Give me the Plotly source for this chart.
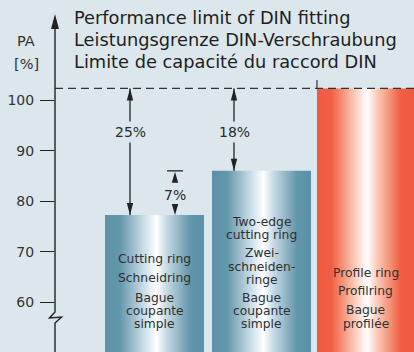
import plotly.graph_objects as go

# ---- data -------------------------------------------------------------
categories = ["Cutting ring", "Two-edge cutting ring", "Profile ring"]
pa_values = [77.3, 86.0, 102.3]          # PA [%] reached by each fitting type
din_limit = 102.3                          # performance limit of DIN fitting
gap_labels = ["25%", "18%", "7%"]
y_ticks = [60, 70, 80, 90, 100]
title_lines = [
    "Performance limit of DIN fitting",
    "Leistungsgrenze DIN-Verschraubung",
    "Limite de capacité du raccord DIN",
]
bar_text = [
    ["Cutting ring", "Schneidring", "Bague", "coupante", "simple"],
    ["Two-edge", "cutting ring", "Zwei-", "schneiden-", "ringe", "Bague", "coupante", "simple"],
    ["Profile ring", "Profilring", "Bague", "profilée"],
]

# ---- layout geometry (pixels) -------------------------------------------
W, H = 414, 352
ML, MT = 55, 14
Y_RANGE = [50.2, 117.0]
PPU = (H - MT) / (Y_RANGE[1] - Y_RANGE[0])   # pixels per PA unit

bar_edges = [(105, 204), (212, 311), (317, 414)]
bar_text_y = [
    [259, 278, 297.5, 310.7, 324],
    [221.7, 235, 253.3, 266.7, 280, 297.5, 311, 324.3],
    [272.7, 290.7, 310, 324],
]

BG = "#dbe7ed"
INK = "#2a2a2a"
FONT = "DejaVu Sans"

blue_scale = [
    [0.0, "#5c90a6"], [0.15, "#6397ac"], [0.28, "#9bbccb"], [0.42, "#d4e5ed"],
    [0.52, "#ffffff"], [0.62, "#c6dbe5"], [0.76, "#8db1c2"], [0.86, "#6196ab"],
    [1.0, "#5c90a6"],
]
red_scale = [
    [0.0, "#ef5a3f"], [0.15, "#f06045"], [0.28, "#f59a80"], [0.42, "#fcd8cb"],
    [0.52, "#ffffff"], [0.62, "#fbcab9"], [0.76, "#f48e72"], [0.86, "#f05e43"],
    [1.0, "#ef5a3f"],
]
scales = [blue_scale, blue_scale, red_scale]


def paper_x(px):
    return (px - ML) / (W - ML)


def paper_y(py):
    return (H - py) / (H - MT)


def to_val(py):
    return Y_RANGE[1] - (py - MT) / PPU


def label(x, y, text, xref="paper", size=12, color="#303030", **kw):
    d = dict(x=x, y=y, xref=xref, yref="paper", text=text, showarrow=False,
             xanchor="center", yanchor="middle",
             font=dict(family=FONT, size=size, color=color))
    d.update(kw)
    return d


fig = go.Figure()

# bars drawn as filled polygons so they can carry a horizontal gradient
base = Y_RANGE[0] - 5
for (x0, x1), v, cs, name in zip(bar_edges, pa_values, scales, categories):
    fig.add_trace(go.Scatter(
        x=[x0, x1, x1, x0, x0], y=[base, base, v, v, base],
        fill="toself", mode="lines", line=dict(width=0),
        fillgradient=dict(type="horizontal", colorscale=cs),
        hoverinfo="skip", name=name, showlegend=False,
    ))

shapes = []
annotations = []

# dashed DIN limit line
shapes.append(dict(type="line", xref="x", yref="y", x0=ML, x1=W, y0=din_limit, y1=din_limit,
                   line=dict(color="#333333", width=1.4, dash="8px,5px"), layer="above"))
shapes.append(dict(type="line", xref="x", yref="y", x0=317, x1=317, y0=din_limit, y1=to_val(80),
                   line=dict(color="#333333", width=1.2), layer="above"))


# y axis line with a break and arrow head
def ppath(points):
    return "M" + " L".join(f"{paper_x(a):.5f},{paper_y(b):.5f}" for a, b in points)


axis_line = dict(color="#222222", width=1.4)
shapes.append(dict(type="path", xref="paper", yref="paper",
                   path=ppath([(ML, 24), (ML, 312), (49.5, 318), (61.5, 317), (ML, 323), (ML, H)]),
                   line=axis_line))
shapes.append(dict(type="path", xref="paper", yref="paper",
                   path=ppath([(ML, MT), (ML - 4, MT + 15), (ML + 4, MT + 15)]) + " Z",
                   fillcolor="#222222", line=dict(width=0)))


def head(x, tip, up, length=12, half=3.2):
    """Filled arrow head with its tip at data value `tip`."""
    d = length / PPU
    b = tip - d if up else tip + d
    return dict(type="path", xref="x", yref="y",
                path=f"M{x},{tip} L{x - half},{b} L{x + half},{b} Z",
                fillcolor="#222222", line=dict(width=0), layer="above")


def gap_arrow(x, top, bottom, text, label_py):
    shapes.append(dict(type="line", xref="x", yref="y", x0=x, x1=x, y0=top, y1=bottom,
                       line=dict(color="#222222", width=1.3), layer="above"))
    shapes.append(head(x, top, up=True))
    shapes.append(head(x, bottom, up=False))
    annotations.append(label(x, paper_y(label_py), text, xref="x", size=14, color=INK,
                             bgcolor=BG, borderpad=2))


gap_arrow(130, din_limit, pa_values[0], gap_labels[0], 132)
gap_arrow(234, din_limit, pa_values[1], gap_labels[1], 132)

# 7 % difference between the two cutting-ring types
x7 = 175
shapes.append(dict(type="line", xref="x", yref="y", x0=x7 - 8, x1=x7 + 8,
                   y0=pa_values[1], y1=pa_values[1], line=dict(color="#222222", width=1.3)))
shapes.append(head(x7, pa_values[1] - 1 / PPU, up=True, length=11))
shapes.append(head(x7, pa_values[0], up=False, length=11))
annotations.append(label(x7, paper_y(194.5), gap_labels[2], xref="x", size=14, color=INK))

# title block
for line, py in zip(title_lines, [18, 40, 62]):
    annotations.append(label(paper_x(72), paper_y(py), line, size=17.8, color="#1e1e1e",
                             xanchor="left"))

# axis caption
for txt, py in [("PA", 41), ("[%]", 64)]:
    annotations.append(label(paper_x(26), paper_y(py), txt, size=14.5, color="#333333"))

# labels inside the bars
for (x0, x1), lines, ys in zip(bar_edges, bar_text, bar_text_y):
    cx = (x0 + x1) / 2
    for line, py in zip(lines, ys):
        annotations.append(label(cx, paper_y(py), line, xref="x", size=12.3, borderpad=0))

fig.update_layout(
    width=W, height=H,
    margin=dict(l=ML, r=0, t=MT, b=0),
    paper_bgcolor=BG, plot_bgcolor=BG,
    xaxis=dict(range=[ML, W], visible=False, fixedrange=True),
    yaxis=dict(range=Y_RANGE, tickvals=y_ticks, ticks="outside", ticklen=14, tickwidth=1.4,
               tickcolor="#222222", showgrid=False, zeroline=False, showline=False,
               ticklabelstandoff=3,
               tickfont=dict(family=FONT, size=14, color="#333333"), fixedrange=True),
    shapes=shapes,
    annotations=annotations,
    showlegend=False,
)

fig.write_html("out.html")
